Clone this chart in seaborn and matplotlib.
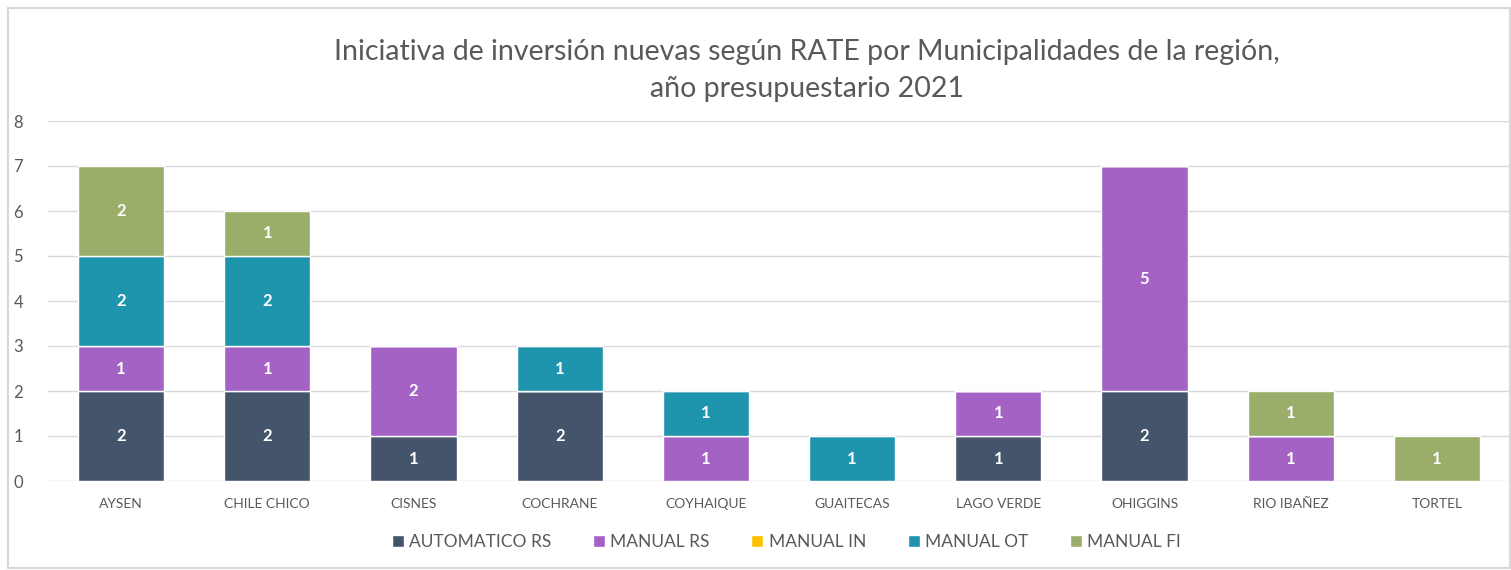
import numpy as np
import pandas as pd
import matplotlib.pyplot as plt
import seaborn as sns
from matplotlib.patches import Rectangle

comunas = ['AYSEN', 'CHILE CHICO', 'CISNES', 'COCHRANE', 'COYHAIQUE',
           'GUAITECAS', 'LAGO VERDE', 'OHIGGINS', 'RIO IBAÑEZ', 'TORTEL']
automatico_rs = [2, 2, 1, 2, 0, 0, 1, 2, 0, 0]
manual_rs = [1, 1, 2, 0, 1, 0, 1, 5, 1, 0]
manual_in = [0, 0, 0, 0, 0, 0, 0, 0, 0, 0]
manual_ot = [2, 2, 0, 1, 1, 1, 0, 0, 0, 0]
manual_fi = [2, 1, 0, 0, 0, 0, 0, 0, 1, 1]

series = {
    'AUTOMATICO RS': automatico_rs,
    'MANUAL RS': manual_rs,
    'MANUAL IN': manual_in,
    'MANUAL OT': manual_ot,
    'MANUAL FI': manual_fi,
}
colors = {
    'AUTOMATICO RS': '#44546A',
    'MANUAL RS': '#A462C5',
    'MANUAL IN': '#FFC000',
    'MANUAL OT': '#1F95AD',
    'MANUAL FI': '#9AAD69',
}

sns.set_style('white')
plt.rcParams['font.family'] = ['Lato', 'DejaVu Sans']

fig = plt.figure(figsize=(15.11, 5.70), dpi=100)
ax = fig.add_axes([48 / 1511, 89 / 570, 1462 / 1511, 360 / 570])

bottom = np.zeros(len(comunas))
for name, vals in series.items():
    df = pd.DataFrame({'comuna': comunas, 'n': vals})
    sns.barplot(data=df, x='comuna', y='n', bottom=bottom, color=colors[name],
                width=0.59, ax=ax, label=name, saturation=1, zorder=3)
    for i, v in enumerate(vals):
        if v > 0:
            ax.text(i, bottom[i] + v / 2, str(v), ha='center', va='center',
                    color='white', fontsize=12, fontweight='bold', zorder=4)
    bottom = bottom + np.array(vals)

ax.set_ylim(0, 8)
ax.set_xlim(-0.5, len(comunas) - 0.5)
ax.set_yticks(range(0, 9))
ax.yaxis.grid(True, color='#D9D9D9', linewidth=1, zorder=0)
for s in ax.spines.values():
    s.set_visible(False)
ax.set_xlabel('')
ax.set_ylabel('')
ax.tick_params(axis='y', labelsize=12, labelcolor='#595959', length=0, pad=18)
ax.tick_params(axis='x', labelsize=10, labelcolor='#595959', length=0, pad=12)

fig.text(0.534, 0.876, 'Iniciativa de inversión nuevas según RATE por Municipalidades de la región,\naño presupuestario 2021',
         ha='center', va='center', fontsize=20.5, color='#595959', linespacing=1.55)

handles, labels = ax.get_legend_handles_labels()
ax.legend(handles, labels, loc='center', bbox_to_anchor=(0.505, -0.17), ncol=5, frameon=False,
          fontsize=12.5, labelcolor='#595959', handlelength=0.7, handleheight=0.7,
          handletextpad=0.3, columnspacing=2.4)

fig.patches.append(Rectangle((8 / 1511, 2 / 570), 1502 / 1511, 560 / 570, transform=fig.transFigure,
                             fill=False, edgecolor='#D9D9D9', linewidth=1.5))

fig.savefig('out.png', dpi=100)
